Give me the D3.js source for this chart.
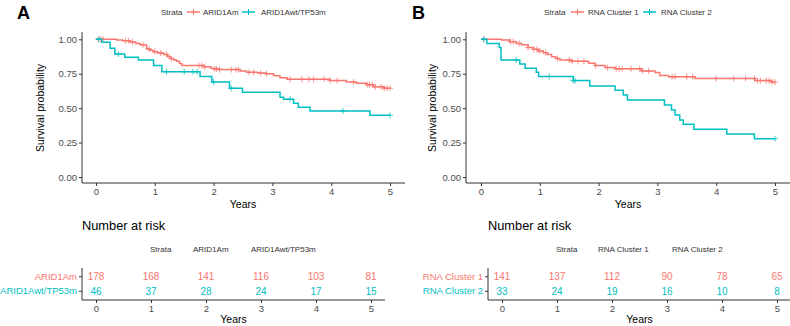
<!DOCTYPE html>
<html>
<head>
<meta charset="utf-8">
<script src="https://cdn.jsdelivr.net/npm/d3@7"></script>
<style>
  body { margin: 0; background: #fff; }
  text { font-family: "Liberation Sans", Arial, sans-serif; }
</style>
</head>
<body>
<svg width="790" height="326"></svg>
<script>
// colours used by ggplot for two strata
const red = "#F8766D";
const teal = "#00BFC4";

// Panel A: ARID1Am vs ARID1Awt/TP53m
const aNames = ["ARID1Am", "ARID1Awt/TP53m"];
const aRedTimes = [0.35,0.45,0.58,0.68,0.75,0.86,0.92,0.97,1.05,1.15,1.22,1.26,1.32,1.37,1.42,1.46,1.83,1.95,2.0,2.1,2.45,2.56,2.75,2.9,3.02,3.13,3.25,3.98,4.26,4.43,4.6,4.72,4.9];
const aRedSurv  = [0.995,0.99,0.98,0.97,0.96,0.93,0.92,0.91,0.90,0.89,0.875,0.86,0.85,0.84,0.825,0.81,0.80,0.79,0.785,0.78,0.77,0.76,0.755,0.75,0.735,0.72,0.71,0.70,0.69,0.68,0.67,0.655,0.645];
const aRedCens  = [0.04,0.08,0.12,0.5,0.55,0.62,0.8,0.9,1.0,1.1,1.2,1.28,1.75,1.8,1.85,2.02,2.05,2.1,2.3,2.38,2.42,2.6,2.68,2.8,2.9,3.3,3.5,3.62,3.7,3.88,3.98,4.1,4.38,4.62,4.65,4.7,4.75,4.85,4.9,4.95,5.0];
const aTealTimes = [0.1,0.24,0.32,0.49,0.72,0.98,1.12,1.77,1.97,2.27,2.49,3.13,3.19,3.36,3.44,3.64,4.66];
const aTealSurv  = [0.978,0.935,0.893,0.87,0.85,0.81,0.765,0.73,0.69,0.645,0.615,0.58,0.565,0.535,0.506,0.48,0.448];
const aTealCens  = [0.05,0.38,1.2,1.5,1.65,1.72,2.0,2.3,3.3,4.2,5.0];
const aRiskRed  = [178,168,141,116,103,81];
const aRiskTeal = [46,37,28,24,17,15];

// Panel B: RNA Cluster 1 vs RNA Cluster 2
const bNames = ["RNA Cluster 1", "RNA Cluster 2"];
const bRedTimes = [0.35,0.49,0.6,0.69,0.8,0.89,0.97,1.06,1.13,1.2,1.27,1.34,1.54,1.83,1.94,2.11,2.28,2.73,2.96,3.04,3.19,3.64,4.66,4.94];
const bRedSurv  = [0.995,0.983,0.97,0.96,0.94,0.927,0.915,0.903,0.89,0.874,0.86,0.85,0.84,0.826,0.81,0.795,0.786,0.77,0.758,0.738,0.728,0.716,0.70,0.69];
const bRedCens  = [0.05,0.5,0.55,0.65,0.8,0.9,0.95,1.0,1.1,1.3,1.5,1.55,1.65,1.75,1.95,2.15,2.3,2.35,2.4,2.55,2.7,2.75,2.85,3.25,3.3,3.5,3.6,4.0,4.3,4.5,4.65,4.7,4.75,4.85,4.9,4.95,5.0];
const bTealTimes = [0.1,0.31,0.34,0.66,0.75,0.94,0.98,1.57,1.85,2.28,2.42,2.49,3.12,3.24,3.3,3.38,3.44,3.62,4.18,4.65];
const bTealSurv  = [0.97,0.94,0.85,0.82,0.79,0.76,0.73,0.70,0.66,0.63,0.595,0.56,0.523,0.487,0.45,0.414,0.383,0.346,0.312,0.278];
const bTealCens  = [0.05,0.6,1.16,1.57,1.6,5.0];
const bRiskRed  = [141,137,112,90,78,65];
const bRiskTeal = [33,24,19,16,10,8];

const yTicks = [0, 0.25, 0.5, 0.75, 1];
const xTicks = [0, 1, 2, 3, 4, 5];

const svg = d3.select("svg");

// step function value at time t
function survAt(times, surv, t) {
  let s = 1;
  for (let i = 0; i < times.length; i++) if (times[i] <= t) s = surv[i];
  return s;
}

function drawPanel(p) {
  const g = svg.append("g").attr("transform", `translate(${p.dx},0)`);

  // panel letter
  g.append("text").attr("x", 17).attr("y", 19).text(p.letter)
    .style("font-size", "18px").style("font-weight", "bold").attr("fill", "#000");

  // top legend
  const lg = g.append("g").attr("transform", "translate(0,12)");
  lg.append("text").attr("x", p.leg[0]).attr("dy", "0.35em").text("Strata")
    .style("font-size", "8px").attr("fill", "#333");
  [[p.leg[1], p.leg[2], red, p.names[0]], [p.leg[3], p.leg[4], teal, p.names[1]]].forEach(d => {
    lg.append("line").attr("x1", d[0]).attr("x2", d[0] + 13).attr("stroke", d[2]).attr("stroke-width", 1.5);
    lg.append("line").attr("x1", d[0] + 6.5).attr("x2", d[0] + 6.5).attr("y1", -3).attr("y2", 3)
      .attr("stroke", d[2]).attr("stroke-width", 1);
    lg.append("text").attr("x", d[1]).attr("dy", "0.35em").text(d[3])
      .style("font-size", "8px").attr("fill", "#333");
  });

  // survival plot
  const x = d3.scaleLinear().domain([0, 5]).range([p.x0, p.x0 + 294]);
  const y = d3.scaleLinear().domain([0, 1]).range([177, 39.3]);

  const yAxis = g.append("g").attr("transform", `translate(${p.axisX},0)`)
    .call(d3.axisLeft(y).tickValues(yTicks).tickFormat(d3.format(".2f")).tickSize(3).tickPadding(2));
  yAxis.select(".domain").attr("d", "M0,32V183");
  const xAxis = g.append("g").attr("transform", "translate(0,183)")
    .call(d3.axisBottom(x).tickValues(xTicks).tickFormat(d3.format("d")).tickSize(3).tickPadding(2));
  xAxis.select(".domain").attr("d", `M${p.axisX},0H${p.axisEnd}`);
  [yAxis, xAxis].forEach(a => {
    a.selectAll(".domain").attr("stroke", "#333").attr("stroke-width", 1);
    a.selectAll("line").attr("stroke", "#333");
    a.selectAll("text").style("font-size", "9.5px").attr("fill", "#4D4D4D")
      .style("font-family", "Liberation Sans, Arial, sans-serif");
  });

  g.append("text").attr("transform", `translate(${p.ytitleX},108) rotate(-90)`)
    .attr("text-anchor", "middle").attr("dy", "0.35em").text("Survival probability")
    .style("font-size", "10.5px").attr("fill", "#000");
  g.append("text").attr("x", (p.x0 + p.x0 + 294) / 2).attr("y", 208)
    .attr("text-anchor", "middle").text("Years").style("font-size", "10.5px").attr("fill", "#000");

  const series = [
    [p.redTimes, p.redSurv, p.redCens, red],
    [p.tealTimes, p.tealSurv, p.tealCens, teal]
  ];
  const line = d3.line().x(d => x(d[0])).y(d => y(d[1])).curve(d3.curveStepAfter);
  series.forEach(s => {
    const pts = [[0, 1]].concat(s[0].map((t, i) => [t, s[1][i]]));
    const last = d3.max(s[2]);
    pts.push([last, pts[pts.length - 1][1]]);
    g.append("path").datum(pts).attr("d", line).attr("fill", "none")
      .attr("stroke", s[3]).attr("stroke-width", 1.5);
    g.selectAll(null).data(s[2]).enter().append("path")
      .attr("d", d => {
        const cx = x(d), cy = y(survAt(s[0], s[1], d));
        return `M${cx - 3},${cy}H${cx + 3}M${cx},${cy - 3}V${cy + 3}`;
      })
      .attr("stroke", s[3]).attr("stroke-width", 0.8).attr("fill", "none");
  });

  // number at risk table
  g.append("text").attr("x", p.nrX).attr("y", 230).text("Number at risk")
    .style("font-size", "12.8px").attr("fill", "#000");

  const tg = g.append("g").attr("transform", "translate(0,249)");
  p.tabLeg.forEach((d, i) => {
    tg.append("text").attr("x", d).attr("dy", "0.35em")
      .text(i === 0 ? "Strata" : p.names[i - 1]).style("font-size", "8px").attr("fill", "#333");
  });

  const tx = d3.scaleLinear().domain([0, 5]).range([p.t0, p.t0 + 275]);
  const ty = d3.scaleBand().domain(p.names).range([268, 300]).paddingOuter(0.1);
  const tyAxis = g.append("g").attr("transform", `translate(${p.tAxisX},0)`)
    .call(d3.axisLeft(ty).tickSize(3).tickPadding(2));
  tyAxis.select(".domain").attr("d", "M0,268V300");
  tyAxis.selectAll("text").style("font-size", "9.5px")
    .attr("fill", (d, i) => i === 0 ? red : teal)
    .style("font-family", "Liberation Sans, Arial, sans-serif");
  const txAxis = g.append("g").attr("transform", "translate(0,300)")
    .call(d3.axisBottom(tx).tickValues(xTicks).tickFormat(d3.format("d")).tickSize(3).tickPadding(2));
  txAxis.select(".domain").attr("d", `M${p.tAxisX},0H${p.tAxisEnd}`);
  txAxis.selectAll("text").style("font-size", "9.5px").attr("fill", "#4D4D4D")
    .style("font-family", "Liberation Sans, Arial, sans-serif");
  [tyAxis, txAxis].forEach(a => {
    a.selectAll(".domain").attr("stroke", "#333");
    a.selectAll("line").attr("stroke", "#333");
  });
  g.append("text").attr("x", (p.t0 + p.t0 + 275) / 2).attr("y", 323)
    .attr("text-anchor", "middle").text("Years").style("font-size", "10.5px").attr("fill", "#000");

  [[p.riskRed, red, p.names[0]], [p.riskTeal, teal, p.names[1]]].forEach(r => {
    g.selectAll(null).data(r[0]).enter().append("text")
      .attr("x", (d, i) => tx(xTicks[i]))
      .attr("y", ty(r[2]) + ty.bandwidth() / 2)
      .attr("dy", "0.35em").attr("text-anchor", "middle")
      .text(d => d).style("font-size", "10px").attr("fill", r[1]);
  });
}

drawPanel({
  dx: 0, letter: "A", names: aNames,
  leg: [161, 187, 203, 242, 261],
  x0: 96, axisX: 82, axisEnd: 405, ytitleX: 40,
  redTimes: aRedTimes, redSurv: aRedSurv, redCens: aRedCens,
  tealTimes: aTealTimes, tealSurv: aTealSurv, tealCens: aTealCens,
  nrX: 82, tabLeg: [150, 193, 251],
  t0: 96, tAxisX: 82, tAxisEnd: 385,
  riskRed: aRiskRed, riskTeal: aRiskTeal
});

drawPanel({
  dx: 395, letter: "B", names: bNames,
  leg: [149, 176, 193, 248, 266],
  x0: 86, axisX: 71, axisEnd: 395, ytitleX: 37,
  redTimes: bRedTimes, redSurv: bRedSurv, redCens: bRedCens,
  tealTimes: bTealTimes, tealSurv: bTealSurv, tealCens: bTealCens,
  nrX: 93, tabLeg: [161, 203, 277],
  t0: 107, tAxisX: 93, tAxisEnd: 395,
  riskRed: bRiskRed, riskTeal: bRiskTeal
});
</script>
</body>
</html>
